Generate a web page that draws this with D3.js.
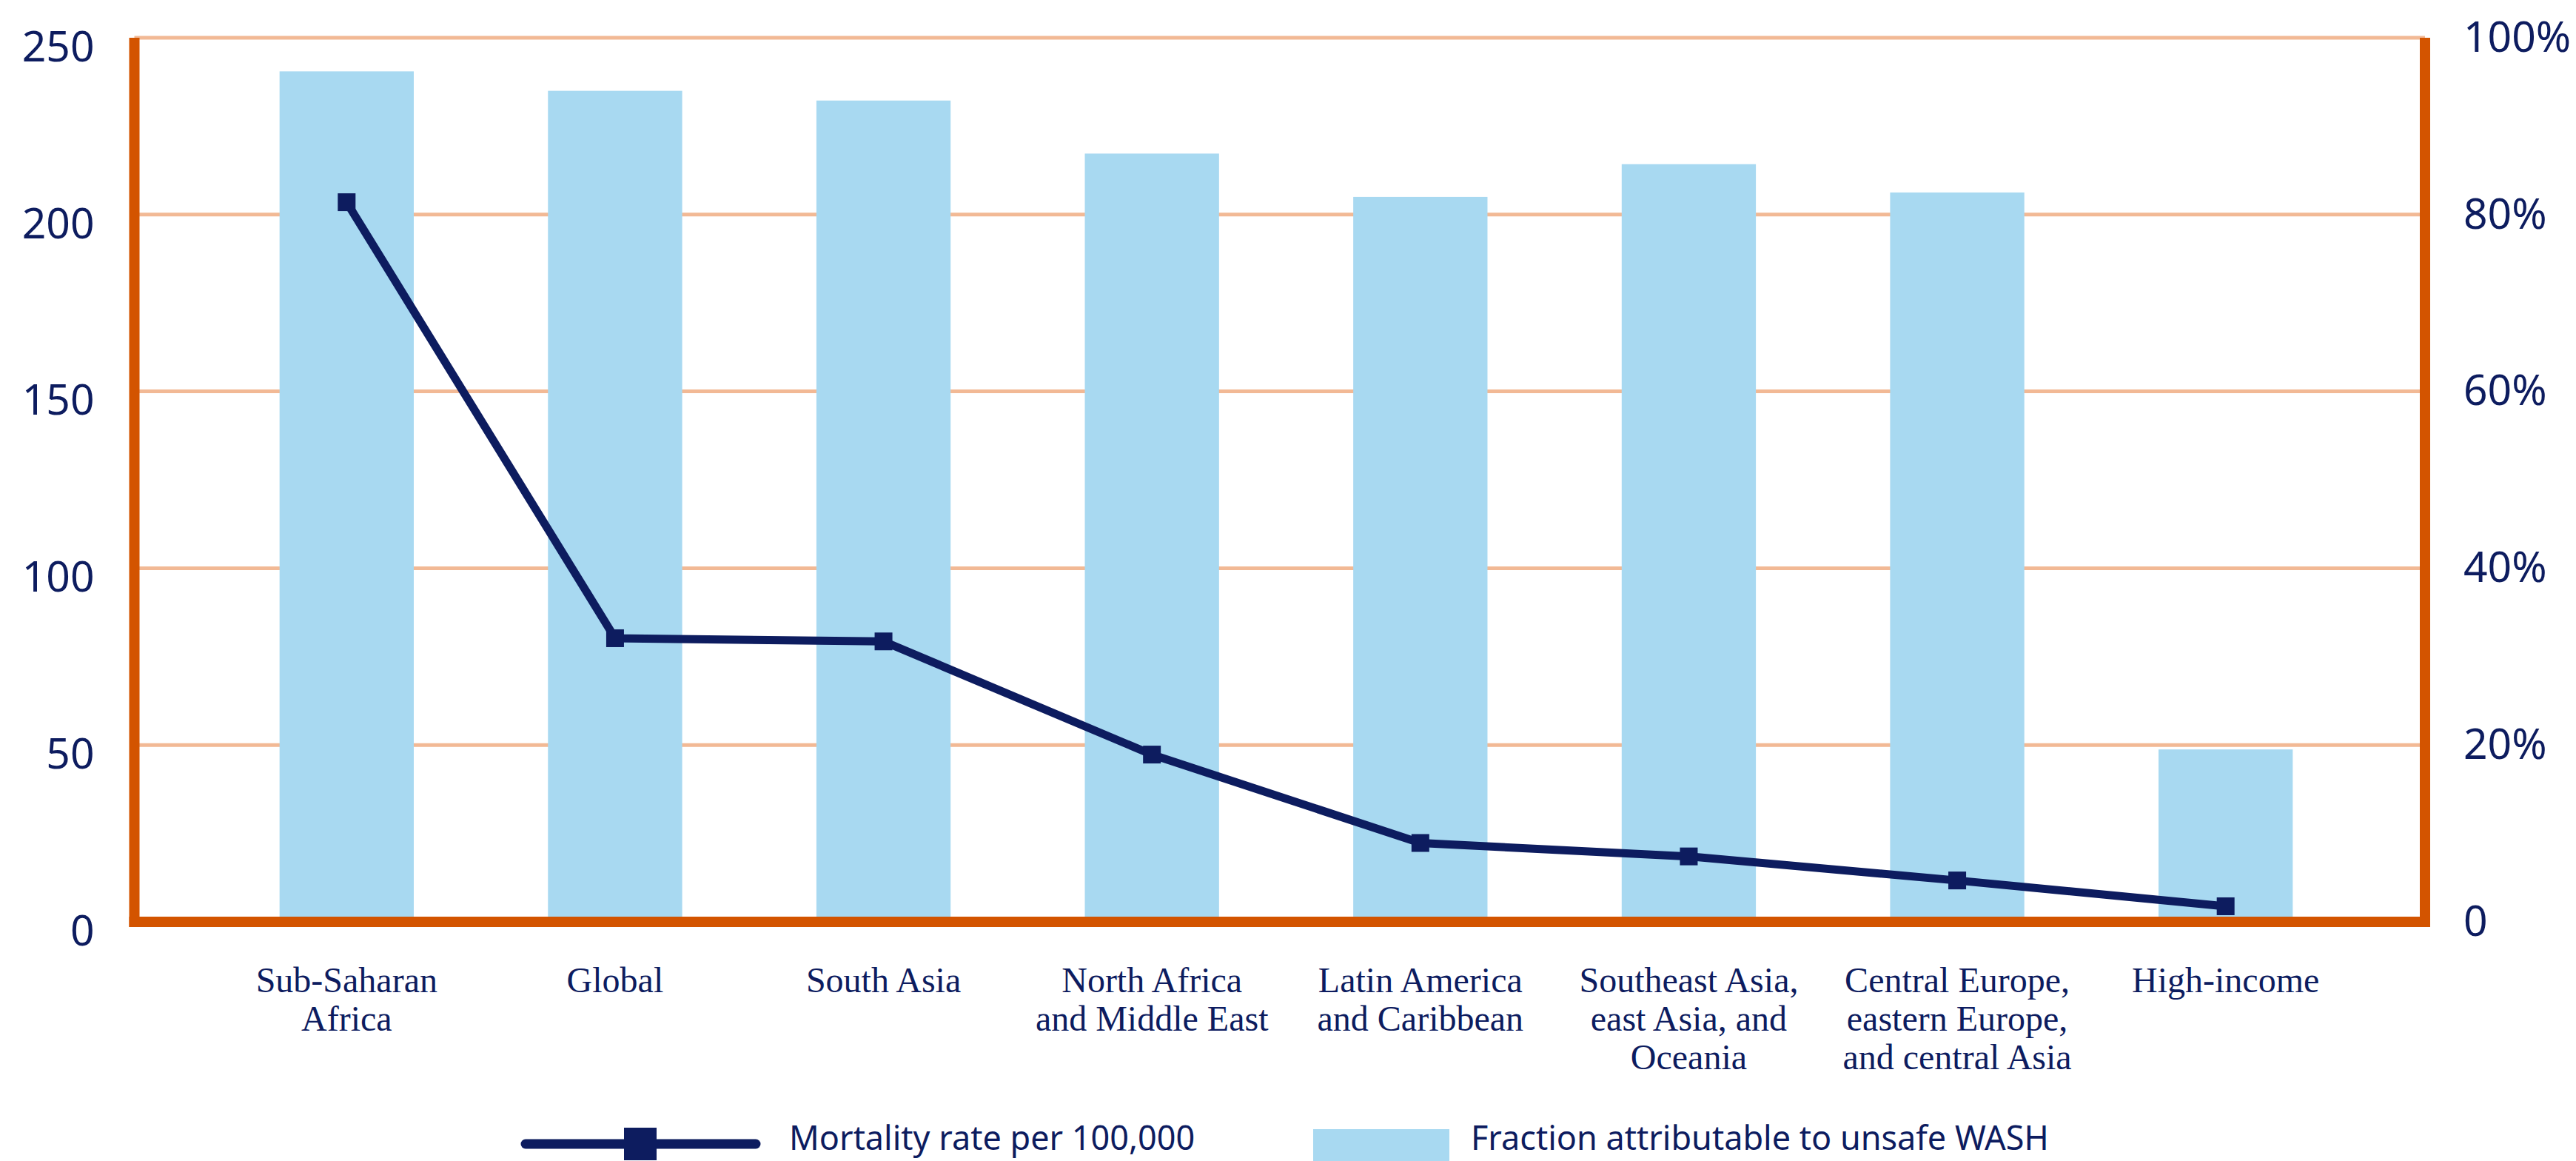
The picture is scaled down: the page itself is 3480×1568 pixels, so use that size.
<!DOCTYPE html>
<html>
<head>
<meta charset="utf-8">
<script src="https://cdn.jsdelivr.net/npm/d3@7"></script>
<style>
  body{margin:0;background:#fff;}
  svg{display:block;}
</style>
</head>
<body>
<svg id="canvas"></svg>
<script>
// data
let categories=["Sub-Saharan Africa","Global","South Asia","North Africa and Middle East","Latin America and Caribbean","Southeast Asia, east Asia, and Oceania","Central Europe, eastern Europe, and central Asia","High-income"];
let labelLines=[["Sub-Saharan","Africa"],["Global"],["South Asia"],["North Africa","and Middle East"],["Latin America","and Caribbean"],["Southeast Asia,","east Asia, and","Oceania"],["Central Europe,","eastern Europe,","and central Asia"],["High-income"]];
let mortality=[203.5,80.2,79.3,47.3,22.3,18.5,11.7,4.4];
let fraction=[0.962,0.940,0.929,0.869,0.820,0.857,0.825,0.195];
let leftTicks=[0,50,100,150,200,250];
let rightTicks=[0,0.2,0.4,0.6,0.8,1];
let legendLabels=["Mortality rate per 100,000","Fraction attributable to unsafe WASH"];

let width=3480;
let height=1568;
let plotLeft=181.5,plotRight=3276,plotTop=51,plotBottom=1245;

let navy="#0d1c5f";
let orange="#d35400";
let grid="#f2b995";
let barColor="#a8d9f1";

let canvas=d3.select("#canvas")
canvas.attr('width',width)
canvas.attr('height',height)

let xscale=d3.scaleBand()
    .domain(categories)
    .range([287,3188])
    .paddingInner(0.5)
    .paddingOuter(0.25);
let yLeft=d3.scaleLinear().domain([0,250]).range([plotBottom,plotTop]);
let yRight=d3.scaleLinear().domain([0,1]).range([plotBottom,plotTop]);

// gridlines
canvas.append('g').selectAll('line')
    .data(leftTicks.filter(d=>d>0))
    .enter().append('line')
    .attr('x1',plotLeft).attr('x2',plotRight)
    .attr('y1',d=>yLeft(d)).attr('y2',d=>yLeft(d))
    .attr('stroke',grid).attr('stroke-width',5);

// bars
canvas.append('g').selectAll('rect')
    .data(categories)
    .enter().append('rect')
    .attr('x',d=>xscale(d))
    .attr('width',xscale.bandwidth())
    .attr('y',(d,i)=>yRight(fraction[i]))
    .attr('height',(d,i)=>plotBottom-yRight(fraction[i]))
    .attr('fill',barColor);

// frame lines (left, bottom, right)
let frame=canvas.append('g').attr('stroke',orange).attr('stroke-width',14);
frame.append('line').attr('x1',plotLeft).attr('x2',plotLeft).attr('y1',plotTop).attr('y2',plotBottom+7);
frame.append('line').attr('x1',plotRight).attr('x2',plotRight).attr('y1',plotTop).attr('y2',plotBottom+7);
frame.append('line').attr('x1',plotLeft-7).attr('x2',plotRight+7).attr('y1',plotBottom).attr('y2',plotBottom);

// mortality line
let line=d3.line()
    .x((d,i)=>xscale(categories[i])+xscale.bandwidth()/2)
    .y(d=>yLeft(d));
canvas.append('path')
    .datum(mortality)
    .attr('d',line)
    .attr('fill','none')
    .attr('stroke',navy)
    .attr('stroke-width',11);
canvas.append('g').selectAll('rect')
    .data(mortality)
    .enter().append('rect')
    .attr('x',(d,i)=>xscale(categories[i])+xscale.bandwidth()/2-12)
    .attr('y',d=>yLeft(d)-12)
    .attr('width',24).attr('height',24)
    .attr('fill',navy);

// axes
let yAxisL=d3.axisLeft(yLeft).tickValues(leftTicks).tickSize(0).tickPadding(54);
let gL=canvas.append('g').attr('transform','translate('+plotLeft+',0)').call(yAxisL);
let yAxisR=d3.axisRight(yRight).tickValues(rightTicks).tickSize(0).tickPadding(52)
    .tickFormat(d=>d===0?'0':d3.format('.0%')(d));
let gR=canvas.append('g').attr('transform','translate('+plotRight+',0)').call(yAxisR);
[gL,gR].forEach(g=>{
    g.select('.domain').remove();
    g.selectAll('text')
        .attr('fill',navy)
        .style('font-family','"Noto Sans", sans-serif')
        .style('font-size','57px');
});
gL.selectAll('text').attr('dy','0.55em');
gR.selectAll('text').attr('dy','0.32em');

// category labels
let xlab=canvas.append('g');
categories.forEach((c,i)=>{
    let t=xlab.append('text')
        .attr('x',xscale(c)+xscale.bandwidth()/2)
        .attr('y',1340)
        .attr('text-anchor','middle')
        .attr('fill',navy)
        .style('font-family','"Liberation Serif", serif')
        .style('font-size','48px');
    labelLines[i].forEach((s,j)=>{
        t.append('tspan')
            .attr('x',xscale(c)+xscale.bandwidth()/2)
            .attr('dy',j===0?0:52)
            .text(s);
    });
});

// legend (sits at the very bottom edge, as in the reference)
let legend=canvas.append('g');
legend.append('line')
    .attr('x1',710).attr('x2',1021).attr('y1',1545).attr('y2',1545)
    .attr('stroke',navy).attr('stroke-width',13).attr('stroke-linecap','round');
legend.append('rect')
    .attr('x',843).attr('y',1523).attr('width',44).attr('height',44)
    .attr('fill',navy);
legend.append('text')
    .attr('x',1066).attr('y',1553)
    .attr('fill',navy)
    .style('font-family','"Noto Sans", sans-serif')
    .style('font-size','45px')
    .text(legendLabels[0]);
legend.append('rect')
    .attr('x',1774).attr('y',1525).attr('width',184).attr('height',50)
    .attr('fill',barColor);
legend.append('text')
    .attr('x',1987).attr('y',1553)
    .attr('fill',navy)
    .style('font-family','"Noto Sans", sans-serif')
    .style('font-size','45px')
    .text(legendLabels[1]);
</script>
</body>
</html>
